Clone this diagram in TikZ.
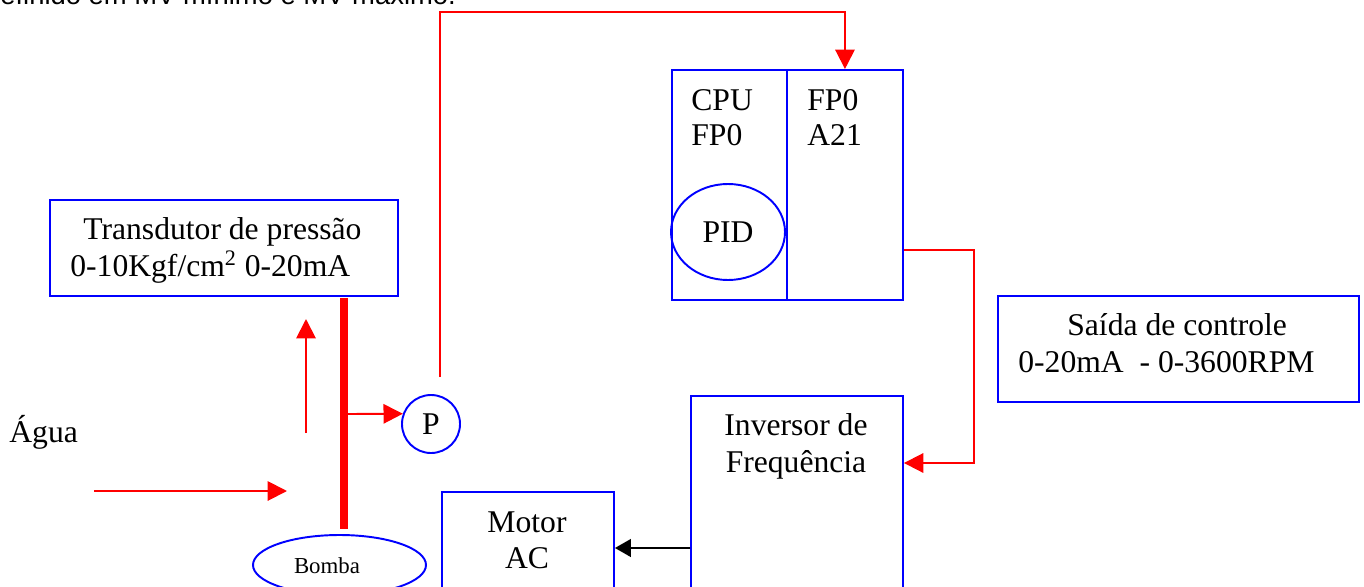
\documentclass[tikz,border=0pt]{standalone}
\usepackage{fontspec}
\setmainfont{Liberation Serif}
\newfontfamily\arialfont{Liberation Sans}
\usetikzlibrary{positioning, arrows.meta, calc, shapes.geometric}
\tikzset{
  bloco/.style={rectangle, draw=blue, line width=1.1pt, inner sep=0pt},
  texto/.style={font=\fontsize{18}{21}\selectfont, inner sep=0pt},
  sinal/.style={red, line width=1.1pt, -{Triangle[length=11pt, width=11pt]}},
  comando/.style={black, line width=1.1pt, -{Triangle[length=9pt, width=10pt]}},
  cano/.style={red, line width=4pt}
}

\begin{document}
\begin{tikzpicture}
        \useasboundingbox (0,0) rectangle (27.28,-11.72);

        % Texto cortado no topo
        \node[font=\arialfont\fontsize{15.6}{18}\selectfont, inner sep=0pt, anchor=base west] (nota) at (0,-0.08) {efinido em MV mínimo e MV máximo.};

        % ==========================================
        % 1. Blocos
        % ==========================================

        % Transdutor
        \node[bloco, minimum width=6.96cm, minimum height=1.92cm, anchor=north west] (transdutor) at (0.98,-3.98) {};
        \node[texto, align=left, anchor=north west] (transdutortxt) at (1.40,-4.35) {\hspace*{0.26cm}Transdutor de pressão\\0-10Kgf/cm\textsuperscript{2} 0-20mA};

        % CLP: CPU e modulo analogico
        \node[bloco, minimum width=2.30cm, minimum height=4.60cm, anchor=north west] (cpu) at (13.42,-1.38) {};
        \node[bloco, minimum width=2.32cm, minimum height=4.60cm, anchor=north west] (a21) at (15.72,-1.38) {};
        \node[texto, align=left, anchor=north west, font=\fontsize{18}{20}\selectfont] (cputxt) at (13.82,-1.78) {CPU\\FP0};
        \node[texto, align=left, anchor=north west, font=\fontsize{18}{20}\selectfont] (a21txt) at (16.14,-1.78) {FP0\\A21};
        \node[ellipse, draw=blue, line width=1.1pt, minimum width=2.28cm, minimum height=1.92cm, inner sep=0pt, font=\fontsize{18}{21}\selectfont] (pid) at (14.56,-4.64) {PID};

        % Saida de controle
        \node[bloco, minimum width=7.22cm, minimum height=2.12cm, anchor=north west] (saida) at (19.94,-5.90) {};
        \node[texto, align=left, anchor=north west] (saidatxt) at (20.36,-6.27) {\hspace*{0.98cm}Saída de controle\\0-20mA\ \ - 0-3600RPM};

        % Inversor e motor
        \node[bloco, minimum width=4.24cm, minimum height=4.2cm, anchor=north west] (inv) at (13.80,-7.90) {};
        \node[texto, align=center, anchor=north] (invtxt) at (15.92,-8.27) {Inversor de\\Frequência};
        \node[bloco, minimum width=3.44cm, minimum height=3.0cm, anchor=north west] (motor) at (8.82,-9.82) {};
        \node[texto, align=center, anchor=north] (motortxt) at (10.54,-10.22) {Motor\\AC};

        % ==========================================
        % 2. Tubulacao, bomba e sensor
        % ==========================================
        \node[texto, anchor=base west] (agua) at (0.18,-8.84) {Água};
        \node[ellipse, draw=blue, line width=1.1pt, minimum width=3.46cm, minimum height=1.2cm, inner sep=0pt] (bomba) at (6.79,-11.30) {};
        \node[font=\fontsize{13}{15}\selectfont, inner sep=0pt, anchor=base] (bombatxt) at (6.54,-11.46) {Bomba};
        \node[circle, draw=blue, line width=1.1pt, minimum size=1.16cm, inner sep=0pt, font=\fontsize{18}{21}\selectfont] (p) at (8.62,-8.48) {P};

        \coordinate (canotopo) at (6.88,-5.96);
        \coordinate (canobase) at (6.88,-10.58);
        \draw[cano] (canotopo) -- (canobase);

        \coordinate (aguain) at (1.88,-9.82);
        \coordinate (aguafim) at (5.74,-9.82);
        \draw[sinal] (aguain) -- (aguafim);

        \coordinate (subida) at (6.12,-8.66);
        \coordinate (subidafim) at (6.12,-6.38);
        \draw[sinal] (subida) -- (subidafim);

        \coordinate (derivacao) at (6.96,-8.28);
        \draw[sinal] (derivacao) -- (p.160);

        % ==========================================
        % 3. Sinais
        % ==========================================
        \coordinate (psaida) at (8.80,-7.54);
        \draw[sinal] (psaida) |- ($(a21.north)+(0,1.14)$) -- (a21.north);
        \draw[sinal] ($(a21.south east)+(0,1.02)$) -| ($(inv.north east)+(1.40,-1.36)$) -- ($(inv.north east)+(0,-1.36)$);
        \draw[comando] ($(inv.north west)+(0,-3.06)$) -- ($(motor.north east)+(0,-1.14)$);

    \end{tikzpicture}
\end{document}
